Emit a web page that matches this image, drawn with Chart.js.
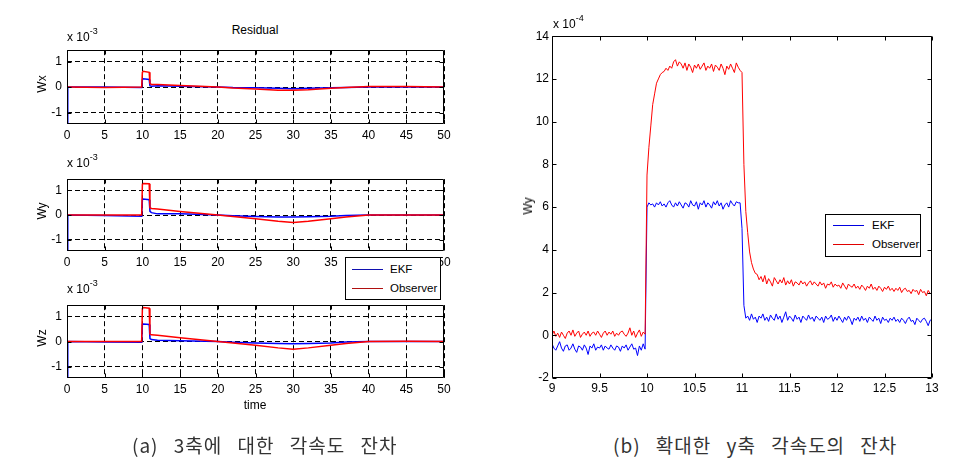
<!DOCTYPE html>
<html>
<head>
<meta charset="utf-8">
<script src="https://cdn.jsdelivr.net/npm/chart.js@4/dist/chart.umd.min.js"></script>
<style>
  body { margin: 0; width: 960px; height: 467px; background: #fff; position: relative; overflow: hidden;
         font-family: "Liberation Sans", Arial, sans-serif; color: #000; }
  canvas { position: absolute; }
  .lbl { position: absolute; font-size: 12px; white-space: nowrap; transform: translate(-50%, -50%); }
  .ylbl { position: absolute; font-size: 12px; white-space: nowrap; transform: translate(-50%, -50%) rotate(-90deg); }
  .exp { position: absolute; font-size: 12px; white-space: nowrap; }
  .exp sup { font-size: 9px; position: relative; top: -2px; }
  .legend { position: absolute; background: #fff; border: 1px solid #000; box-sizing: border-box; }
  .legend .row { position: absolute; left: 0; height: 14px; font-size: 11.5px; line-height: 14px; }
  .legend .sw { position: absolute; width: 31px; height: 0; border-top: 1px solid; top: 7px; }
  .legend .tx { position: absolute; white-space: nowrap; }
  .cap { position: absolute; font-family: "Noto Sans CJK KR", sans-serif; font-size: 19px; font-weight: 400;
         white-space: nowrap; color: #333; letter-spacing: 1px; word-spacing: 10px; }
</style>
</head>
<body>
<canvas id="wx" width="440" height="108" style="left:20px;top:38px;width:440px;height:108px"></canvas>
<canvas id="wy" width="440" height="106" style="left:20px;top:167px;width:440px;height:106px"></canvas>
<canvas id="wz" width="440" height="107" style="left:20px;top:293px;width:440px;height:107px"></canvas>
<canvas id="zoom" width="460" height="374" style="left:490px;top:26px;width:460px;height:374px"></canvas>

<div class="lbl" style="left:255px;top:30px">Residual</div>
<div class="exp" style="left:67px;top:28px">x 10<sup>-3</sup></div>
<div class="exp" style="left:67px;top:154px">x 10<sup>-3</sup></div>
<div class="exp" style="left:67px;top:280px">x 10<sup>-3</sup></div>
<div class="ylbl" style="left:42px;top:84px">Wx</div>
<div class="ylbl" style="left:42px;top:211px">Wy</div>
<div class="ylbl" style="left:42px;top:338px">Wz</div>
<div class="lbl" style="left:255px;top:405px">time</div>

<div class="exp" style="left:553px;top:15px">x 10<sup>-4</sup></div>
<div class="ylbl" style="left:528px;top:206px">Wy</div>

<div class="legend" style="left:345px;top:257px;width:96px;height:43px">
  <div class="row" style="top:4px"><span class="sw" style="left:6px;border-color:#1010b0"></span><span class="tx" style="left:44px">EKF</span></div>
  <div class="row" style="top:23px"><span class="sw" style="left:6px;border-color:#b01010"></span><span class="tx" style="left:44px">Observer</span></div>
</div>
<div class="legend" style="left:825px;top:214px;width:96px;height:43px">
  <div class="row" style="top:3px"><span class="sw" style="left:7px;border-color:#0000e0"></span><span class="tx" style="left:46px">EKF</span></div>
  <div class="row" style="top:22px"><span class="sw" style="left:7px;border-color:#e00000"></span><span class="tx" style="left:46px">Observer</span></div>
</div>

<div class="cap" style="left:132px;top:431px">(a) 3축에 대한 각속도 잔차</div>
<div class="cap" style="left:613px;top:431px">(b) 확대한 y축 각속도의 잔차</div>

<script>
// residual plots (a), values in 1e-3
const leftTime = [0, 0.1, 5, 9.9, 10, 10.1, 10.9, 11, 11.2, 12, 15, 20, 22, 25, 28, 30, 32, 35, 37, 40, 45, 50];
const wxEkf = [-3, 0, 0, -0.02, 0.3, 0.33, 0.3, 0.05, 0.03, 0.05, 0.03, 0, -0.02, -0.03, -0.05, -0.06, -0.05, -0.03, -0.02, 0, 0, 0];
const wxObs = [0, 0, -0.02, 0, 0.58, 0.62, 0.58, 0.15, 0.1, 0.1, 0.06, 0, -0.04, -0.07, -0.12, -0.12, -0.1, -0.05, -0.02, 0.02, 0.02, 0];
const wyEkf = [-3, 0, -0.02, -0.05, 0.62, 0.65, 0.62, 0.15, 0.1, 0.05, 0.05, 0, -0.03, -0.06, -0.08, -0.08, -0.07, -0.05, -0.02, 0, 0, 0];
const wyObs = [0, 0, 0, 0, 1.25, 1.28, 1.27, 0.3, 0.27, 0.25, 0.15, 0, -0.06, -0.15, -0.25, -0.3, -0.25, -0.15, -0.08, 0, 0, 0];
const wzEkf = [-3, 0, -0.02, -0.03, 0.68, 0.7, 0.68, 0.12, 0.08, 0.05, 0.03, 0, -0.03, -0.06, -0.08, -0.09, -0.08, -0.06, -0.02, 0, 0, 0];
const wzObs = [0, 0, 0, 0, 1.32, 1.36, 1.33, 0.3, 0.27, 0.25, 0.15, 0, -0.06, -0.15, -0.25, -0.3, -0.25, -0.15, -0.08, 0, 0.01, 0];
const leftXTicks = [0, 5, 10, 15, 20, 25, 30, 35, 40, 45, 50];
const leftYTicks = [-1, 0, 1];

// zoomed Wy plot (b), values in 1e-4, sampled every 0.02 s from 9 s
const zoomStart = 9;
const zoomStep = 0.02;
const zoomEkf = [
  -0.4, -0.6, -0.7, -0.5, -0.3, -0.6, -0.75, -0.5, -0.45, -0.7,
  -0.6, -0.4, -0.65, -0.8, -0.5, -0.55, -0.7, -0.45, -0.6, -0.9,
  -0.5, -0.6, -0.4, -0.7, -0.55, -0.6, -0.45, -0.7, -0.5, -0.6,
  -0.65, -0.45, -0.6, -0.7, -0.5, -0.55, -0.75, -0.5, -0.6, -0.45,
  -0.7, -0.55, -0.4, -0.65, -0.6, -0.95, -0.5, -0.7, -0.4, -0.65,
  6.0,
  6.2, 6.1, 6.15, 6.0, 6.2, 6.1, 6.25, 6.05, 6.15, 6.0,
  6.2, 6.3, 6.1, 6.0, 6.2, 6.05, 6.25, 6.1, 5.95, 6.2,
  6.15, 6.0, 6.3, 6.1, 6.05, 6.25, 5.9, 6.2, 6.1, 6.3,
  6.0, 6.2, 6.1, 5.95, 6.25, 6.1, 6.3, 6.05, 6.2, 5.9,
  6.1, 6.2, 6.0, 6.3, 6.15, 6.05, 6.25, 6.2,
  6.2, 5.0, 1.4, 0.8,
  0.9, 0.7, 1.0, 0.75, 0.85, 0.6, 0.9, 0.8, 1.0, 0.7,
  0.85, 0.65, 0.95, 0.8, 0.7, 1.0, 0.75, 0.9, 0.6, 0.85,
  1.1, 0.7, 0.9, 0.8, 0.65, 0.95, 0.75, 0.85, 0.6, 0.9,
  0.8, 0.7, 0.95, 0.75, 0.85, 0.65, 0.9, 0.8, 0.7, 0.85,
  0.6, 0.9, 0.75, 0.8, 0.95, 0.65, 0.85, 0.7, 0.9, 0.75,
  0.6, 0.85, 0.7, 0.9, 0.75, 0.5, 0.8, 0.7, 0.85, 0.65,
  0.9, 0.7, 0.8, 0.6, 0.85, 0.75, 0.65, 0.9, 0.7, 0.8,
  0.55, 0.85, 0.7, 0.75, 0.6, 0.8, 0.7, 0.85, 0.65, 0.75,
  0.6, 0.8, 0.7, 0.55, 0.75, 0.85, 0.65, 0.7, 0.5, 0.8,
  0.7, 0.6, 0.75, 0.8, 0.65, 0.45, 0.7, 0.75
];
const zoomObs = [
  0.0, 0.2, -0.05, 0.1, -0.1, 0.15, 0.0, -0.15, 0.1, 0.2,
  0.0, 0.25, -0.05, 0.1, 0.2, -0.1, 0.05, 0.15, 0.0, 0.2,
  -0.05, 0.1, 0.15, 0.0, 0.2, 0.05, -0.1, 0.1, 0.2, 0.0,
  0.15, 0.05, 0.2, -0.05, 0.1, 0.0, 0.15, 0.2, 0.05, -0.05,
  0.1, 0.35, 0.0, 0.2, -0.1, 0.1, 0.25, -0.05, 0.15, 0.05,
  7.5, 8.8, 9.8, 10.8, 11.3, 11.8, 12.0, 12.2, 12.3, 12.35,
  12.5, 12.4, 12.6, 12.5, 12.8, 12.9, 12.6, 12.8,
  12.7, 12.5, 12.75, 12.4, 12.7, 12.55, 12.3, 12.65, 12.5, 12.7,
  12.45, 12.6, 12.75, 12.4, 12.6, 12.5, 12.7, 12.35, 12.65, 12.55,
  12.4, 12.7, 12.5, 12.2, 12.6, 12.45, 12.7, 12.5, 12.3, 12.75, 12.55,
  12.4, 12.3, 8.0, 5.8, 4.8, 3.9, 3.4, 3.1, 2.9, 2.85, 2.6, 2.75,
  2.5, 2.8, 2.4, 2.65, 2.5, 2.3, 2.7, 2.55, 2.4, 2.6,
  2.45, 2.7, 2.35, 2.55, 2.4, 2.6, 2.3, 2.5, 2.45, 2.35,
  2.55, 2.4, 2.5, 2.3, 2.45, 2.55, 2.35, 2.5, 2.4, 2.3,
  2.5, 2.35, 2.45, 2.2, 2.4, 2.35, 2.5, 2.25, 2.4, 2.3,
  2.35, 2.2, 2.45, 2.3, 2.15, 2.4, 2.3, 2.25, 2.4, 2.2,
  2.3, 2.15, 2.35, 2.25, 2.1, 2.3, 2.2, 2.4, 2.15, 2.25,
  2.1, 2.3, 2.2, 2.05, 2.25, 2.15, 2.3, 2.1, 2.2, 2.05,
  2.2, 2.1, 2.25, 2.0, 2.15, 2.2, 2.05, 2.1, 1.95, 2.15,
  2.05, 2.1, 1.9, 2.15, 2.0, 2.05, 1.85, 2.1, 1.95, 2.0
];
const zoomXTicks = [9, 9.5, 10, 10.5, 11, 11.5, 12, 12.5, 13];
const zoomYTicks = [-2, 0, 2, 4, 6, 8, 10, 12, 14];

Chart.defaults.font.family = '"Liberation Sans", Arial, sans-serif';
Chart.defaults.font.size = 12;
Chart.defaults.color = '#000';

const toPoints = (xs, ys) => ys.map((y, i) => ({ x: xs[i], y: y }));
const zoomTime = zoomEkf.map((_, i) => +(zoomStart + i * zoomStep).toFixed(2));
const plainLabel = (value) => String(value);

// matlab style box with inward ticks on all four sides
const boxTicks = {
  id: 'boxTicks',
  afterDatasetsDraw(chart) {
    const { ctx, chartArea: a, scales: { x, y } } = chart;
    const len = 4;
    const l = Math.round(a.left) + 0.5, r = Math.round(a.right) - 0.5;
    const t = Math.round(a.top) + 0.5, b = Math.round(a.bottom) - 0.5;
    ctx.save();
    ctx.strokeStyle = '#000';
    ctx.lineWidth = 1;
    ctx.beginPath();
    x.ticks.forEach(tk => {
      const px = Math.round(x.getPixelForValue(tk.value)) + 0.5;
      ctx.moveTo(px, b); ctx.lineTo(px, b - len);
      ctx.moveTo(px, t); ctx.lineTo(px, t + len);
    });
    y.ticks.forEach(tk => {
      const py = Math.round(y.getPixelForValue(tk.value)) + 0.5;
      ctx.moveTo(l, py); ctx.lineTo(l + len, py);
      ctx.moveTo(r, py); ctx.lineTo(r - len, py);
    });
    ctx.rect(l, t, r - l, b - t);
    ctx.stroke();
    ctx.restore();
  }
};

function residualChart(id, ekf, obs) {
  return new Chart(document.getElementById(id), {
    type: 'line',
    data: {
      datasets: [
        { label: 'EKF', data: toPoints(leftTime, ekf), borderColor: '#0000ff', borderWidth: 1.5, pointRadius: 0, order: 2 },
        { label: 'Observer', data: toPoints(leftTime, obs), borderColor: '#ff0000', borderWidth: 1.5, pointRadius: 0, order: 1 },
      ],
    },
    options: {
      responsive: false,
      animation: false,
      layout: { padding: { top: 5, right: 16, left: 0, bottom: 0 } },
      plugins: { legend: { display: false }, tooltip: { enabled: false } },
      scales: {
        x: {
          type: 'linear',
          min: 0,
          max: 50,
          afterBuildTicks: (axis) => { axis.ticks = leftXTicks.map(v => ({ value: v })); },
          afterFit: (axis) => { axis.height = 22; },
          grid: { color: '#000', lineWidth: 1, drawTicks: false },
          border: { display: false, dash: [5, 3] },
          ticks: { padding: 4, maxRotation: 0, autoSkip: false, callback: plainLabel },
        },
        y: {
          min: -1.45,
          max: 1.45,
          afterBuildTicks: (axis) => { axis.ticks = leftYTicks.map(v => ({ value: v })); },
          afterFit: (axis) => { axis.width = 47; },
          grid: { color: '#000', lineWidth: 1, drawTicks: false },
          border: { display: false, dash: [5, 3] },
          ticks: { padding: 5, callback: plainLabel },
        },
      },
    },
    plugins: [boxTicks],
  });
}

residualChart('wx', wxEkf, wxObs);
residualChart('wy', wyEkf, wyObs);
residualChart('wz', wzEkf, wzObs);

new Chart(document.getElementById('zoom'), {
  type: 'line',
  data: {
    datasets: [
      { label: 'EKF', data: toPoints(zoomTime, zoomEkf), borderColor: '#0000ff', borderWidth: 1, pointRadius: 0, order: 2 },
      { label: 'Observer', data: toPoints(zoomTime, zoomObs), borderColor: '#ff0000', borderWidth: 1, pointRadius: 0, order: 1 },
    ],
  },
  options: {
    responsive: false,
    animation: false,
    layout: { padding: { top: 8, right: 18, left: 0, bottom: 0 } },
    plugins: { legend: { display: false }, tooltip: { enabled: false } },
    scales: {
      x: {
        type: 'linear',
        min: 9,
        max: 13,
        afterBuildTicks: (axis) => { axis.ticks = zoomXTicks.map(v => ({ value: v })); },
        afterFit: (axis) => { axis.height = 22; },
        grid: { display: false, drawTicks: false },
        border: { display: false },
        ticks: { padding: 3, maxRotation: 0, autoSkip: false, callback: plainLabel },
      },
      y: {
        min: -2,
        max: 14,
        afterBuildTicks: (axis) => { axis.ticks = zoomYTicks.map(v => ({ value: v })); },
        afterFit: (axis) => { axis.width = 62; },
        grid: { display: false, drawTicks: false },
        border: { display: false },
        ticks: { padding: 3, callback: plainLabel },
      },
    },
  },
  plugins: [boxTicks],
});
</script>
</body>
</html>
